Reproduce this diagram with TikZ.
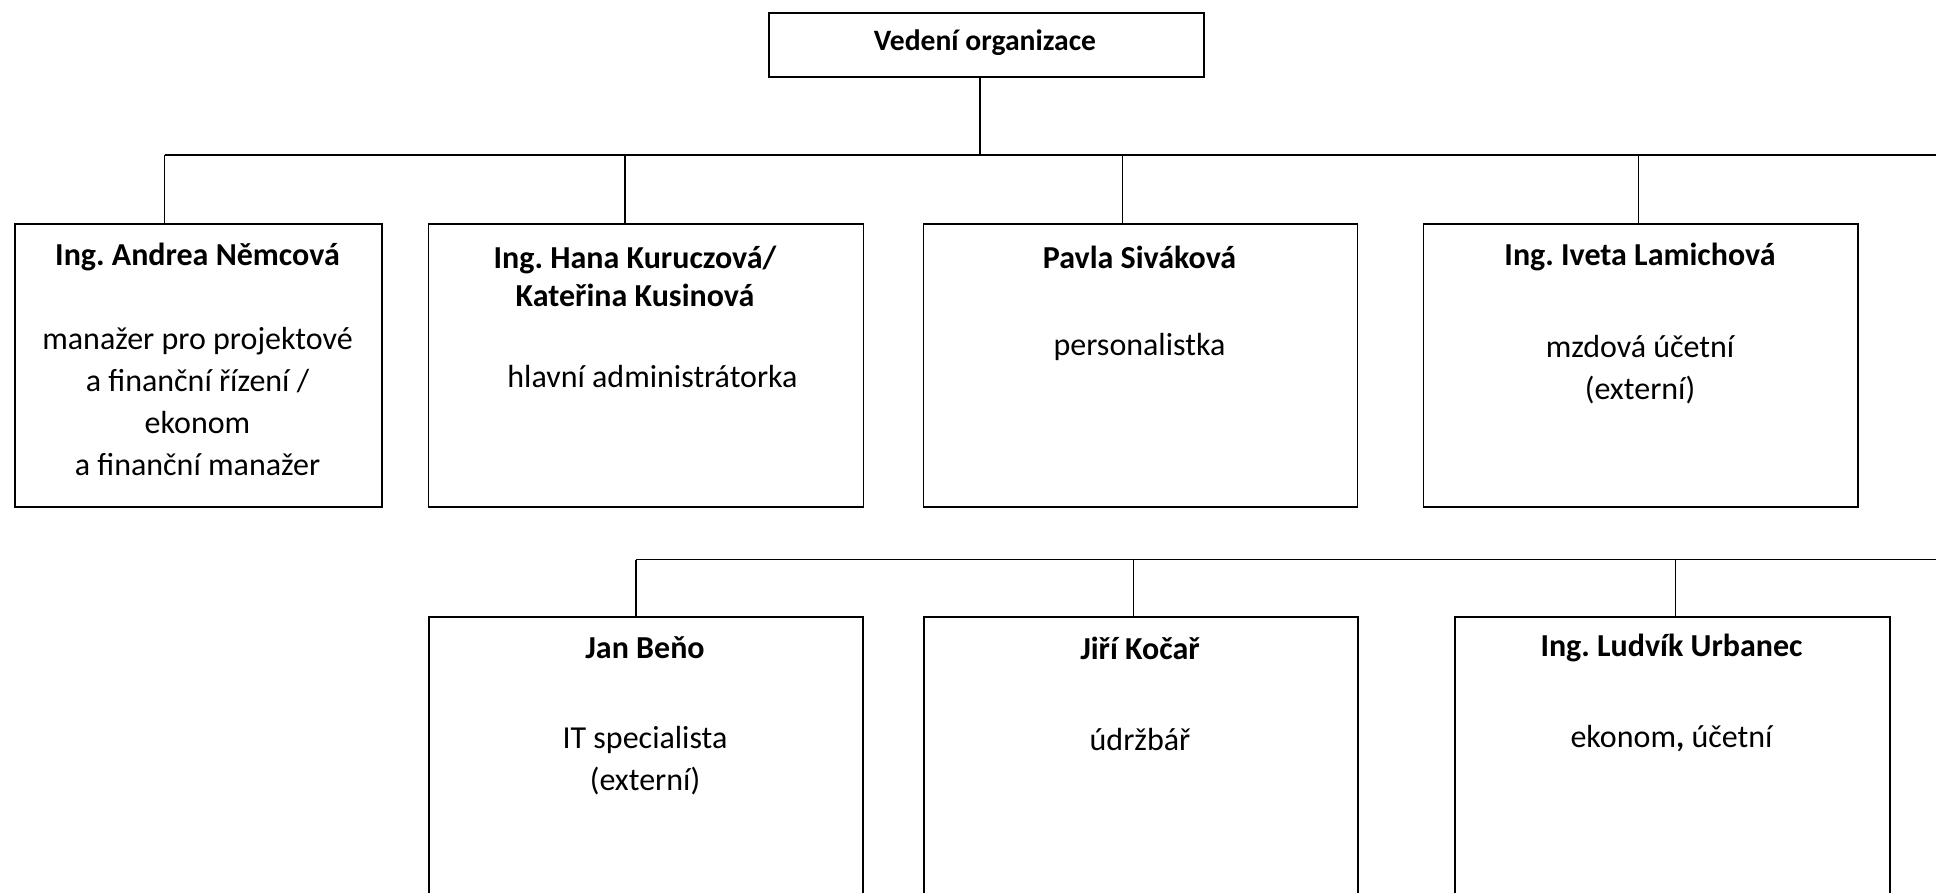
\documentclass[tikz,border=0pt]{standalone}
\usepackage{fontspec}
\setmainfont{Carlito}
\frenchspacing
\begin{document}
\begin{tikzpicture}[x=0.5pt,y=-0.5pt,
  box/.style={draw,line width=0.9pt,rectangle,inner sep=0pt,anchor=north west},
  conn/.style={line width=0.7pt},
  nm/.style={font=\fontsize{16}{18.75}\selectfont\bfseries,align=center,inner sep=0pt},
  ds/.style={font=\fontsize{16}{21}\selectfont,align=center,inner sep=0pt}]
\useasboundingbox (0,0) rectangle (1936,893);
\clip (0,0) rectangle (1936,893);
% top box
\node[box,minimum width=217.5pt,minimum height=32pt] (top) at (768,12) {};
\node[nm,font=\fontsize{14.8}{17}\selectfont\bfseries] (topt) at (985,43) {Vedení organizace};
% row 1 boxes
\node[box,minimum width=183.5pt,minimum height=141.5pt] (b1) at (14,223) {};
\node[box,minimum width=217.5pt,minimum height=141.5pt] (b2) at (427.5,223) {};
\node[box,minimum width=217pt,minimum height=141.5pt] (b3) at (922.5,223) {};
\node[box,minimum width=217.4pt,minimum height=141.5pt] (b4) at (1422.6,223) {};
% row 2 boxes
\node[box,minimum width=217pt,minimum height=200pt] (c1) at (428,616) {};
\node[box,minimum width=217pt,minimum height=200pt] (c2) at (923,616) {};
\node[box,minimum width=217.5pt,minimum height=200pt] (c3) at (1454,616) {};
% texts row 1
\node[nm] (b1n) at (197.5,257) {Ing. Andrea Němcová};
\node[ds] (b1d) at (197.5,402) {manažer pro projektové\\a finanční řízení /\\ekonom\\a finanční manažer};
\node[nm] (b2n) at (635,276.5) {Ing. Hana Kuruczová/\\Kateřina Kusinová};
\node[ds] (b2d) at (652.5,377) {hlavní administrátorka};
\node[nm] (b3n) at (1139.5,257) {Pavla Siváková};
\node[ds] (b3d) at (1139.5,347) {personalistka};
\node[nm] (b4n) at (1640,257) {Ing. Iveta Lamichová};
\node[ds] (b4d) at (1640,369.5) {mzdová účetní\\(externí)};
% texts row 2
\node[nm] (c1n) at (645,648) {Jan Beňo};
\node[ds] (c1d) at (645,760.5) {IT specialista\\(externí)};
\node[nm] (c2n) at (1140,648) {Jiří Kočař};
\node[ds] (c2d) at (1140,739) {údržbář};
\node[nm] (c3n) at (1671.5,648) {Ing. Ludvík Urbanec};
\node[ds] (c3d) at (1671.5,739) {ekonom\textbf{,} účetní};
% bus 1
\coordinate (t0) at (980,155);
\coordinate (t1) at (164.5,155);
\coordinate (t2) at (625,155);
\coordinate (t3) at (1122.7,155);
\coordinate (t4) at (1638.7,155);
\coordinate (tR) at (1940,155);
\draw[conn] (t1) -- (tR);
\draw[conn] (t0) -- (t0 |- top.south);
\draw[conn] (t1) -- (t1 |- b1.north);
\draw[conn] (t2) -- (t2 |- b2.north);
\draw[conn] (t3) -- (t3 |- b3.north);
\draw[conn] (t4) -- (t4 |- b4.north);
% bus 2
\coordinate (s1) at (636,559.5);
\coordinate (s2) at (1133.7,559.5);
\coordinate (s3) at (1675.5,559.5);
\coordinate (sR) at (1940,559.5);
\draw[conn] (s1) -- (sR);
\draw[conn] (s1) -- (s1 |- c1.north);
\draw[conn] (s2) -- (s2 |- c2.north);
\draw[conn] (s3) -- (s3 |- c3.north);
\end{tikzpicture}
\end{document}
